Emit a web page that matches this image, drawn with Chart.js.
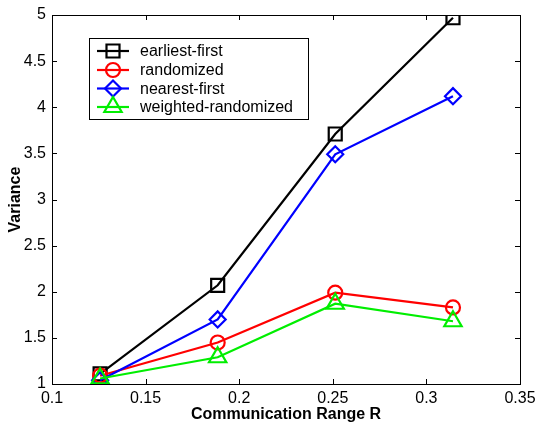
<!DOCTYPE html>
<html>
<head>
<meta charset="utf-8">
<script src="https://cdn.jsdelivr.net/npm/chart.js@4.4.1/dist/chart.umd.min.js"></script>
<style>
html,body{margin:0;padding:0;background:#fff;}
#wrap{width:535px;height:424px;position:relative;}
</style>
</head>
<body>
<div id="wrap"><canvas id="c" width="535" height="424"></canvas></div>
<script>
// ---- data ----
const rangeR = [0.1257, 0.1885, 0.2513, 0.3142];
const earliestFirst = [1.11, 2.07, 3.71, 4.97];
const randomized = [1.09, 1.45, 1.99, 1.83];
const nearestFirst = [1.04, 1.70, 3.49, 4.12];
const weightedRandomized = [1.06, 1.29, 1.87, 1.68];
const xTicks = [0.1, 0.15, 0.2, 0.25, 0.3, 0.35];
const yTicks = [1, 1.5, 2, 2.5, 3, 3.5, 4, 4.5, 5];
const seriesNames = ['earliest-first', 'randomized', 'nearest-first', 'weighted-randomized'];
const xTitle = 'Communication Range R';
const yTitle = 'Variance';

const FONT = '"Liberation Sans", Arial, Helvetica, sans-serif';
const colors = ['#000000', '#ff0000', '#0000ff', '#00ee00'];
const styles = ['rect', 'circle', 'rectRot', 'triangle'];
const radii = [9.2, 7, 8, 10];
const allSeries = [earliestFirst, randomized, nearestFirst, weightedRandomized];

const datasets = allSeries.map((s, i) => ({
  label: seriesNames[i],
  data: s.map((v, j) => ({x: rangeR[j], y: v})),
  showLine: true,
  borderColor: colors[i],
  backgroundColor: 'rgba(0,0,0,0)',
  pointBorderColor: colors[i],
  pointBackgroundColor: 'rgba(0,0,0,0)',
  borderWidth: 2.2,
  pointBorderWidth: 2.2,
  pointRadius: radii[i],
  pointHoverRadius: radii[i],
  pointStyle: styles[i],
  order: 4 - i,
  tension: 0
}));

const decor = {
  id: 'decor',
  afterDraw(chart) {
    const ctx = chart.ctx;
    const a = chart.chartArea;
    const xs = chart.scales.x, ys = chart.scales.y;
    ctx.save();
    ctx.strokeStyle = '#000';
    ctx.lineWidth = 1;
    // box
    ctx.strokeRect(Math.round(a.left) + 0.5, Math.round(a.top) + 0.5, Math.round(a.right - a.left), Math.round(a.bottom - a.top));
    // inside ticks
    const tl = 5;
    ctx.beginPath();
    xTicks.forEach(v => {
      const px = Math.round(xs.getPixelForValue(v)) + 0.5;
      ctx.moveTo(px, a.bottom); ctx.lineTo(px, a.bottom - tl);
      ctx.moveTo(px, a.top); ctx.lineTo(px, a.top + tl);
    });
    yTicks.forEach(v => {
      const py = Math.round(ys.getPixelForValue(v)) + 0.5;
      ctx.moveTo(a.left, py); ctx.lineTo(a.left + tl, py);
      ctx.moveTo(a.right, py); ctx.lineTo(a.right - tl, py);
    });
    ctx.stroke();
    // axis titles
    ctx.fillStyle = '#000';
    ctx.font = 'bold 16px ' + FONT;
    ctx.textAlign = 'center';
    ctx.textBaseline = 'middle';
    ctx.fillText(xTitle, (a.left + a.right) / 2, 415);
    ctx.save();
    ctx.translate(16, (a.top + a.bottom) / 2);
    ctx.rotate(-Math.PI / 2);
    ctx.fillText(yTitle, 0, 0);
    ctx.restore();
    // legend
    const lx = 89, ly = 38, lw = 219, lh = 81;
    ctx.fillStyle = '#fff';
    ctx.fillRect(lx, ly, lw, lh);
    ctx.strokeStyle = '#000';
    ctx.lineWidth = 1;
    ctx.strokeRect(lx + 0.5, ly + 0.5, lw, lh);
    const rowY = [51, 70, 88.5, 107];
    ctx.font = '16px ' + FONT;
    ctx.textAlign = 'left';
    ctx.textBaseline = 'middle';
    seriesNames.forEach((name, i) => {
      const y = rowY[i];
      ctx.strokeStyle = colors[i];
      ctx.lineWidth = 2.2;
      ctx.beginPath();
      ctx.moveTo(97, y); ctx.lineTo(129, y);
      ctx.stroke();
      ctx.fillStyle = 'rgba(0,0,0,0)';
      ctx.strokeStyle = colors[i];
      ctx.lineWidth = 2.2;
      Chart.helpers.drawPoint(ctx, {pointStyle: styles[i], radius: radii[i], borderWidth: 2.2, rotation: 0}, 113, y);
      ctx.fillStyle = '#000';
      ctx.fillText(name, 140, y + 1);
    });
    ctx.restore();
  }
};

new Chart(document.getElementById('c'), {
  type: 'scatter',
  data: {datasets},
  options: {
    responsive: false,
    animation: false,
    events: [],
    layout: {padding: {left: 0, right: 15, top: 15, bottom: 0}},
    plugins: {legend: {display: false}, tooltip: {enabled: false}},
    scales: {
      x: {
        type: 'linear', min: 0.1, max: 0.35,
        afterBuildTicks: s => { s.ticks = xTicks.map(v => ({value: v})); },
        afterFit: s => { s.height = 40; s.paddingLeft = 0; s.paddingRight = 0; },
        grid: {display: false, drawTicks: false},
        border: {display: false},
        ticks: {color: '#000', font: {family: FONT, size: 16}, padding: 5, maxRotation: 0, autoSkip: false,
          callback: v => String(+v.toFixed(2))}
      },
      y: {
        type: 'linear', min: 1, max: 5,
        afterBuildTicks: s => { s.ticks = yTicks.map(v => ({value: v})); },
        afterFit: s => { s.width = 52; s.paddingTop = 0; s.paddingBottom = 0; },
        grid: {display: false, drawTicks: false},
        border: {display: false},
        ticks: {color: '#000', font: {family: FONT, size: 16}, padding: 6, autoSkip: false,
          callback: v => String(+v.toFixed(1))}
      }
    }
  },
  plugins: [decor]
});
</script>
</body>
</html>
